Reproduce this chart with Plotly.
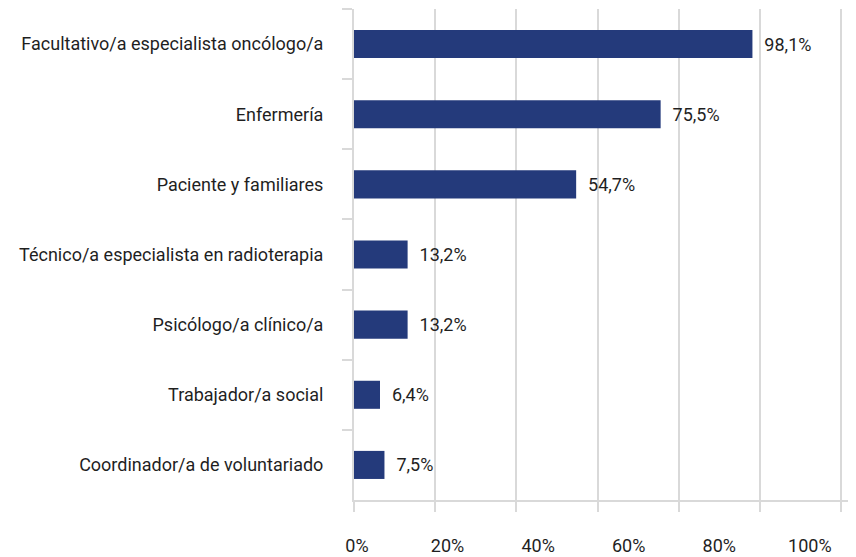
import plotly.graph_objects as go

# Roles involved and share of respondents (%)
roles = [
    "Facultativo/a especialista oncólogo/a",
    "Enfermería",
    "Paciente y familiares",
    "Técnico/a especialista en radioterapia",
    "Psicólogo/a clínico/a",
    "Trabajador/a social",
    "Coordinador/a de voluntariado",
]
pct = [98.1, 75.5, 54.7, 13.2, 13.2, 6.4, 7.5]
tick_vals = [0, 20, 40, 60, 80, 100]
tick_text = ["0%", "20%", "40%", "60%", "80%", "100%"]

font_family = "Roboto, sans-serif"
grid_col = "#d9d9d9"
text_col = "#1f1f1f"

fig = go.Figure()
fig.add_trace(go.Bar(
    x=pct, y=roles, orientation="h",
    marker=dict(color="#243a7b", line=dict(width=0)),
    texttemplate="  %{x:.1f}%", textposition="outside",
    textfont=dict(size=18, color=text_col, family=font_family),
    cliponaxis=False, hoverinfo="skip",
))
# invisible trace just to carry the second x axis with the tick labels
fig.add_trace(go.Scatter(x=[0, 100], y=[roles[0], roles[0]], xaxis="x2",
                         mode="markers", marker=dict(opacity=0), hoverinfo="skip",
                         showlegend=False))

# page body has an 8px margin, so the figure is a bit smaller than the window
fig.update_layout(
    width=848, height=549,
    margin=dict(l=346, r=0, t=1, b=57),
    plot_bgcolor="white", paper_bgcolor="white",
    separators=",.",
    showlegend=False,
    bargap=0.6,
    font=dict(family=font_family, size=18, color=text_col),
    xaxis=dict(range=[0, 123.6], dtick=20, tick0=0, showgrid=True,
               gridcolor=grid_col, gridwidth=2, zeroline=False,
               showline=True, linecolor=grid_col, linewidth=2,
               ticks="outside", ticklen=10, tickwidth=2, tickcolor=grid_col,
               showticklabels=False, automargin=False),
    xaxis2=dict(overlaying="x", anchor="y", side="bottom",
                range=[-0.66, 110.2], tickvals=tick_vals, ticktext=tick_text,
                showgrid=False, zeroline=False, showline=False,
                ticks="outside", ticklen=29, tickcolor="rgba(0,0,0,0)",
                tickfont=dict(size=18, color=text_col), automargin=False),
    yaxis=dict(autorange="reversed", showline=True, linecolor=grid_col, linewidth=2,
               ticks="outside", tickson="boundaries", ticklen=10, tickwidth=2,
               tickcolor=grid_col, showgrid=False, ticklabelstandoff=25,
               tickfont=dict(size=18, color=text_col), automargin=False),
)

fig.write_html("out.html")
